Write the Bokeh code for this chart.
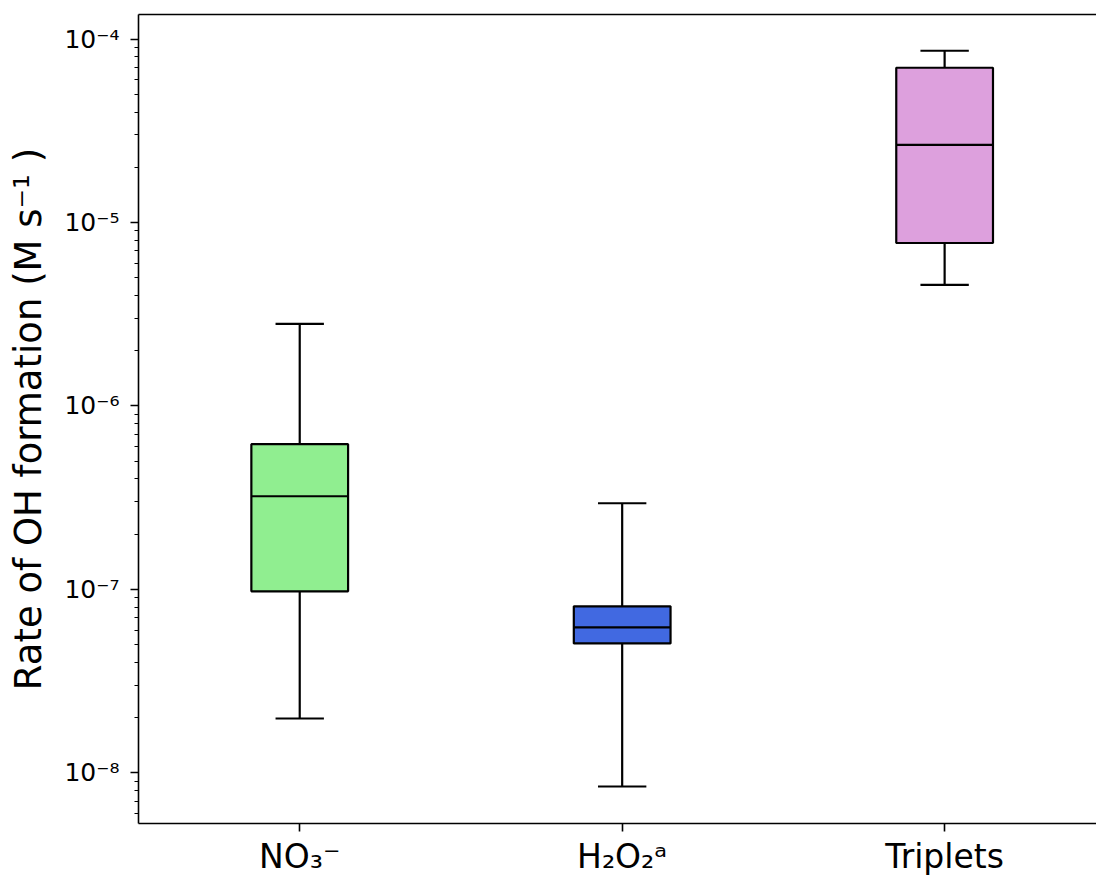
from bokeh.plotting import figure
from bokeh.models import (Range1d, LogTicker, FixedTicker, CustomJSTickFormatter,
                          LinearAxis, ColumnDataSource)
from bokeh.embed import file_html
from bokeh.resources import INLINE

# ---- data ----
categories = ["NO₃⁻", "H₂O₂ᵃ", "Triplets"]
lower_whisker = [1.98e-8, 8.43e-9, 4.57e-6]
q1 = [9.77e-8, 5.08e-8, 7.73e-6]
median = [3.22e-7, 6.21e-8, 2.65e-5]
q3 = [6.19e-7, 8.09e-8, 6.97e-5]
upper_whisker = [2.80e-6, 2.95e-7, 8.63e-5]
colors = ["#90EE90", "#4169E1", "#DDA0DD"]
y_label = "Rate of OH formation (M s⁻¹ )"

positions = [i + 1 for i in range(len(categories))]
box_w = 0.3
cap_w = box_w / 2

src = ColumnDataSource(dict(
    x=positions, lo=lower_whisker, q1=q1, med=median, q3=q3, hi=upper_whisker,
    color=colors,
    bl=[x - box_w / 2 for x in positions], br=[x + box_w / 2 for x in positions],
    cl=[x - cap_w / 2 for x in positions], cr=[x + cap_w / 2 for x in positions],
))

p = figure(width=1096, height=878, y_axis_type="log",
           x_range=Range1d(0.5, 3.471), y_range=Range1d(5.3e-9, 1.36e-4),
           output_backend="svg", toolbar_location=None,
           min_border_left=138, min_border_right=0, min_border_top=14,
           min_border_bottom=10)
p.outline_line_color = None
p.grid.visible = False
p.background_fill_color = "white"
p.border_fill_color = "white"

lw = 2.2
# whiskers
p.segment(x0="x", x1="x", y0="q3", y1="hi", source=src, line_color="black", line_width=lw)
p.segment(x0="x", x1="x", y0="lo", y1="q1", source=src, line_color="black", line_width=lw)
# caps
p.segment(x0="cl", x1="cr", y0="hi", y1="hi", source=src, line_color="black", line_width=lw)
p.segment(x0="cl", x1="cr", y0="lo", y1="lo", source=src, line_color="black", line_width=lw)
# boxes
p.quad(left="bl", right="br", bottom="q1", top="q3", source=src,
       fill_color="color", line_color="black", line_width=lw)
# medians
p.segment(x0="bl", x1="br", y0="med", y1="med", source=src, line_color="black", line_width=lw)

font = "DejaVu Sans"

# y axis
ya = p.yaxis[0]
ya.ticker = LogTicker(num_minor_ticks=10, desired_num_ticks=5)
ya.formatter = CustomJSTickFormatter(code="""
const sup = {'-':'\u207b','0':'\u2070','1':'\u00b9','2':'\u00b2','3':'\u00b3','4':'\u2074',
             '5':'\u2075','6':'\u2076','7':'\u2077','8':'\u2078','9':'\u2079'};
const e = Math.round(Math.log10(tick));
return '10' + String(e).split('').map(c => sup[c]).join('');
""")
ya.axis_label = y_label
ya.axis_label_text_font = font
ya.axis_label_text_font_size = "37px"
ya.axis_label_text_font_style = "normal"
ya.axis_label_text_color = "black"
ya.axis_label_standoff = 11
ya.major_label_text_font = font
ya.major_label_text_font_size = "25px"
ya.major_label_text_color = "black"
ya.major_label_standoff = 11
ya.major_tick_out = 8
ya.major_tick_in = 0
ya.minor_tick_out = 4
ya.minor_tick_in = 0
ya.major_tick_line_width = 1.6
ya.minor_tick_line_width = 1.2
ya.axis_line_width = 1.6
ya.axis_line_color = "black"
ya.major_tick_line_color = "black"
ya.minor_tick_line_color = "black"

# x axis
xa = p.xaxis[0]
xa.ticker = FixedTicker(ticks=positions, minor_ticks=[])
xa.major_label_overrides = {pos: cat for pos, cat in zip(positions, categories)}
xa.major_label_text_font = font
xa.major_label_text_font_size = "33px"
xa.major_label_text_color = "black"
xa.major_label_standoff = 5
xa.major_tick_out = 8
xa.major_tick_in = 0
xa.major_tick_line_width = 1.6
xa.axis_line_width = 1.6
xa.axis_line_color = "black"
xa.major_tick_line_color = "black"
xa.minor_tick_line_color = None

# top spine
top = LinearAxis(ticker=FixedTicker(ticks=[]), major_tick_line_color=None,
                 minor_tick_line_color=None, major_label_text_font_size="0px",
                 major_label_standoff=0, major_tick_out=0, minor_tick_out=0,
                 axis_line_width=1.6, axis_line_color="black")
p.add_layout(top, "above")

open("out.html", "w").write(file_html(p, INLINE))
